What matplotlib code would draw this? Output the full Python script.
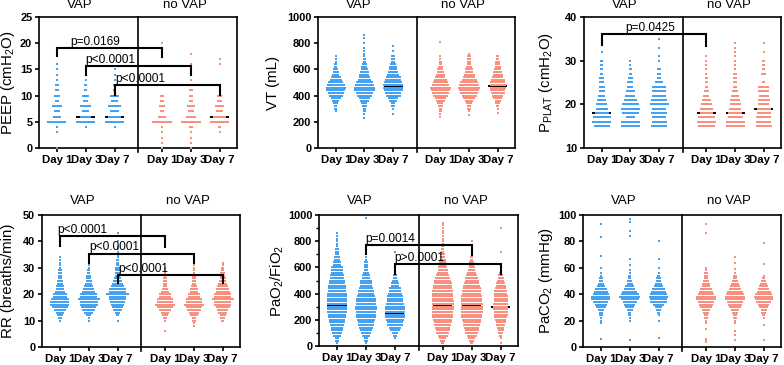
import numpy as np
import matplotlib.pyplot as plt

plt.rcParams['font.family'] = ['Liberation Sans', 'DejaVu Sans']
plt.rcParams['mathtext.fontset'] = 'custom'
plt.rcParams['mathtext.rm'] = 'Liberation Sans'
plt.rcParams['mathtext.it'] = 'Liberation Sans:italic'
plt.rcParams['mathtext.bf'] = 'Liberation Sans:bold'

day_labels = ['Day 1', 'Day 3', 'Day 7', 'Day 1', 'Day 3', 'Day 7']
cohorts = ['VAP', 'no VAP']

# value -> number of patients; order: VAP day 1/3/7, no VAP day 1/3/7
peep = [
    {0: 1, 3: 1, 4: 1, 5: 14, 6: 6, 7: 4, 8: 7, 9: 3, 10: 4, 11: 2, 12: 2, 13: 1, 14: 1, 15: 1, 16: 1},
    {4: 1, 5: 14, 6: 8, 7: 5, 8: 8, 9: 3, 10: 5, 11: 2, 12: 2, 13: 1, 14: 1},
    {4: 1, 5: 14, 6: 9, 7: 6, 8: 10, 9: 5, 10: 6, 11: 2, 12: 2, 13: 1, 14: 1, 15: 1},
    {0: 1, 1: 1, 2: 1, 3: 1, 4: 1, 5: 14, 6: 6, 7: 3, 8: 4, 9: 2, 10: 2, 20: 1},
    {0: 1, 1: 1, 2: 1, 3: 1, 4: 2, 5: 14, 6: 7, 7: 4, 8: 5, 9: 3, 10: 3, 11: 2, 12: 2, 13: 1, 14: 1,
     15: 1, 16: 1, 18: 1},
    {3: 1, 4: 2, 5: 14, 6: 9, 7: 5, 8: 6, 9: 3, 10: 3, 16: 1, 17: 1},
]
peep_median = [5, 6, 6, 5, 5, 6]

vt = [
    {280: 1, 300: 2, 320: 2, 340: 3, 360: 5, 380: 7, 400: 10, 420: 12, 440: 14, 460: 15, 480: 13,
     500: 11, 520: 9, 540: 7, 560: 5, 580: 4, 600: 3, 620: 2, 640: 2, 660: 1, 680: 1, 700: 1},
    {230: 1, 260: 1, 280: 2, 300: 2, 320: 3, 340: 4, 360: 6, 380: 8, 400: 11, 420: 13, 440: 15,
     460: 16, 480: 14, 500: 12, 520: 9, 540: 8, 560: 7, 580: 6, 600: 5, 620: 4, 640: 3, 660: 2,
     680: 2, 700: 1, 720: 1, 740: 1, 760: 1, 800: 1, 840: 1, 860: 1},
    {260: 1, 300: 1, 320: 2, 340: 3, 360: 5, 380: 7, 400: 11, 420: 12, 440: 14, 460: 15, 480: 15,
     500: 13, 520: 12, 540: 11, 560: 9, 580: 7, 600: 6, 620: 5, 640: 4, 660: 3, 680: 3, 700: 2,
     740: 1, 780: 1},
    {240: 1, 260: 1, 280: 2, 300: 2, 320: 3, 340: 4, 360: 6, 380: 8, 400: 11, 420: 13, 440: 14,
     460: 15, 480: 13, 500: 11, 520: 9, 540: 7, 560: 6, 580: 5, 600: 4, 620: 3, 640: 2, 660: 2,
     680: 1, 700: 1, 810: 1},
    {250: 1, 280: 1, 300: 2, 320: 3, 340: 4, 360: 6, 380: 9, 400: 11, 420: 13, 440: 15, 460: 16,
     480: 15, 500: 13, 520: 11, 540: 9, 560: 8, 580: 6, 600: 5, 620: 4, 640: 3, 660: 3, 680: 2,
     700: 2, 720: 1},
    {270: 1, 300: 1, 320: 2, 340: 3, 360: 4, 380: 6, 400: 8, 420: 10, 440: 11, 460: 12, 480: 12,
     500: 11, 520: 10, 540: 8, 560: 7, 580: 6, 600: 5, 620: 4, 640: 3, 660: 3, 680: 2, 700: 2},
]
vt_median = [460, 460, 470, 460, 460, 470]

pplat = [
    {15: 12, 16: 14, 17: 13, 18: 10, 19: 9, 20: 8, 21: 6, 22: 5, 23: 4, 24: 4, 25: 3, 26: 3,
     27: 2, 28: 2, 29: 2, 30: 2, 32: 1, 35: 1},
    {15: 14, 16: 14, 17: 6, 18: 12, 19: 14, 20: 12, 21: 9, 22: 7, 23: 6, 24: 4, 25: 4, 26: 3,
     27: 2, 28: 2, 29: 1, 30: 1},
    {15: 12, 16: 11, 17: 10, 18: 12, 19: 10, 20: 14, 21: 12, 22: 10, 23: 10, 24: 10, 25: 6,
     26: 3, 27: 3, 28: 3, 30: 1, 31: 1, 33: 1, 35: 1},
    {15: 12, 16: 14, 17: 12, 18: 10, 19: 9, 20: 8, 21: 6, 22: 4, 23: 3, 24: 2, 25: 2, 26: 2,
     27: 1, 28: 1, 29: 1, 30: 1, 31: 1},
    {15: 14, 16: 14, 17: 11, 18: 10, 19: 9, 20: 8, 21: 7, 22: 5, 23: 4, 24: 3, 25: 2, 26: 2,
     27: 2, 28: 1, 29: 1, 30: 1, 31: 1, 32: 1, 33: 1, 34: 1},
    {15: 12, 16: 11, 17: 11, 18: 10, 19: 10, 20: 8, 21: 9, 22: 7, 23: 8, 24: 8, 25: 2, 27: 3,
     28: 2, 29: 2, 30: 2, 32: 1, 34: 1},
]
pplat_median = [18, 19, 20, 18, 18, 19]

rr = [
    {10: 1, 11: 2, 12: 4, 13: 6, 14: 9, 15: 12, 16: 14, 17: 14, 18: 13, 19: 10, 20: 10, 21: 7,
     22: 6, 23: 5, 24: 4, 25: 4, 26: 3, 27: 2, 28: 2, 29: 2, 30: 1, 31: 1, 32: 1, 33: 1, 34: 1},
    {10: 1, 11: 1, 12: 3, 13: 6, 14: 9, 15: 11, 16: 13, 17: 13, 18: 16, 19: 12, 20: 12, 21: 9,
     22: 8, 23: 6, 24: 5, 25: 4, 26: 3, 27: 3, 28: 2, 29: 2, 30: 1, 31: 1},
    {10: 1, 12: 2, 13: 4, 14: 6, 15: 8, 16: 10, 17: 11, 18: 13, 19: 12, 20: 17, 21: 12, 22: 12,
     23: 10, 24: 8, 25: 7, 26: 5, 27: 4, 28: 4, 29: 3, 30: 3, 31: 2, 32: 2, 33: 2, 34: 1, 35: 1,
     36: 1, 37: 1, 38: 1, 40: 1, 43: 1},
    {6: 1, 10: 1, 11: 2, 12: 4, 13: 6, 14: 9, 15: 11, 16: 14, 17: 11, 18: 12, 19: 8, 20: 8,
     21: 5, 22: 4, 23: 3, 24: 3, 25: 2, 26: 2, 27: 1, 28: 1, 29: 1, 30: 1},
    {8: 1, 9: 1, 10: 2, 11: 3, 12: 5, 13: 7, 14: 10, 15: 12, 16: 14, 17: 12, 18: 12, 19: 9,
     20: 9, 21: 6, 22: 5, 23: 4, 24: 3, 25: 3, 26: 2, 27: 2, 28: 1, 29: 1, 30: 1, 31: 1},
    {10: 2, 11: 3, 12: 4, 13: 6, 14: 8, 15: 10, 16: 12, 17: 12, 18: 16, 19: 12, 20: 12, 21: 10,
     22: 9, 23: 8, 24: 6, 25: 5, 26: 4, 27: 3, 28: 3, 29: 2, 30: 2, 31: 1, 32: 1},
]
rr_median = [17, 18, 20, 16, 16, 18]

pf = [
    {20: 1, 40: 2, 60: 3, 80: 5, 100: 7, 120: 8, 140: 9, 160: 10, 180: 11, 200: 12, 220: 13,
     240: 13, 260: 14, 280: 14, 300: 15, 320: 15, 340: 14, 360: 14, 380: 14, 400: 14, 420: 13,
     440: 13, 460: 13, 480: 12, 500: 11, 520: 10, 540: 10, 560: 9, 580: 8, 600: 8, 620: 6,
     640: 5, 660: 4, 680: 4, 700: 3, 720: 2, 740: 2, 760: 1, 780: 1, 800: 1, 820: 1, 840: 1,
     860: 1},
    {20: 1, 40: 2, 60: 3, 80: 5, 100: 7, 120: 9, 140: 10, 160: 11, 180: 12, 200: 13, 220: 14,
     240: 15, 260: 15, 280: 16, 300: 16, 320: 15, 340: 15, 360: 14, 380: 13, 400: 12, 420: 11,
     440: 10, 460: 9, 480: 8, 500: 9, 520: 6, 540: 5, 560: 4, 580: 3, 600: 3, 620: 2, 640: 2,
     660: 1, 680: 1, 700: 1, 760: 1, 980: 1},
    {60: 1, 80: 2, 100: 4, 120: 7, 140: 9, 160: 11, 180: 12, 200: 13, 220: 14, 240: 15, 260: 15,
     280: 14, 300: 14, 320: 13, 340: 12, 360: 12, 380: 11, 400: 10, 420: 9, 440: 8, 460: 6,
     480: 5, 500: 4, 520: 3, 540: 2, 560: 1, 720: 1},
    {20: 2, 40: 3, 60: 5, 80: 7, 100: 9, 120: 10, 140: 11, 160: 12, 180: 13, 200: 14, 220: 15,
     240: 15, 260: 15, 280: 16, 300: 16, 320: 16, 340: 16, 360: 15, 380: 15, 400: 15, 420: 15,
     440: 14, 460: 14, 480: 13, 500: 12, 520: 11, 540: 9, 560: 8, 580: 7, 600: 6, 620: 5,
     640: 5, 660: 4, 680: 3, 700: 3, 720: 2, 740: 2, 760: 2, 780: 1, 800: 1, 820: 1, 840: 1,
     860: 1, 880: 1, 900: 1, 920: 1, 940: 1},
    {20: 2, 40: 3, 60: 5, 80: 7, 100: 9, 120: 10, 140: 11, 160: 12, 180: 13, 200: 14, 220: 15,
     240: 15, 260: 16, 280: 16, 300: 16, 320: 16, 340: 15, 360: 15, 380: 15, 400: 14, 420: 14,
     440: 13, 460: 12, 480: 11, 500: 10, 520: 9, 540: 8, 560: 6, 580: 5, 600: 4, 620: 3,
     640: 3, 660: 2, 680: 2, 700: 1, 720: 1, 760: 1, 800: 1},
    {20: 1, 60: 1, 80: 2, 100: 3, 120: 4, 140: 5, 160: 6, 180: 7, 200: 8, 220: 9, 240: 10,
     260: 10, 280: 11, 300: 11, 320: 11, 340: 10, 360: 10, 380: 10, 400: 9, 420: 9, 440: 8,
     460: 7, 480: 6, 500: 5, 520: 4, 540: 3, 560: 2, 580: 1, 600: 1, 720: 1, 900: 1},
]
pf_median = [310, 290, 255, 305, 305, 300]

paco2 = [
    {6: 1, 18: 1, 20: 1, 22: 1, 24: 2, 26: 3, 28: 4, 30: 7, 32: 9, 34: 11, 36: 14, 38: 14,
     40: 12, 42: 10, 44: 8, 46: 6, 48: 4, 50: 3, 52: 2, 54: 1, 56: 1, 60: 1, 69: 1, 83: 1, 93: 1},
    {5: 1, 20: 1, 22: 1, 24: 2, 26: 2, 28: 4, 30: 6, 32: 8, 34: 10, 36: 13, 38: 15, 40: 13,
     42: 11, 44: 8, 46: 6, 48: 4, 50: 3, 52: 2, 54: 2, 56: 1, 58: 1, 62: 1, 67: 1, 84: 1, 88: 1,
     95: 1, 97: 1},
    {7: 1, 20: 1, 24: 1, 26: 2, 28: 3, 30: 5, 32: 8, 34: 12, 36: 13, 38: 14, 40: 13, 42: 11,
     44: 9, 46: 7, 48: 5, 50: 4, 52: 3, 54: 2, 56: 1, 60: 1, 67: 1, 80: 1},
    {4: 1, 5: 1, 6: 1, 14: 1, 18: 1, 20: 1, 22: 2, 24: 3, 26: 4, 28: 5, 30: 8, 32: 10, 34: 12,
     36: 14, 38: 14, 40: 12, 42: 10, 44: 8, 46: 6, 48: 5, 50: 4, 52: 3, 54: 2, 56: 2, 58: 1,
     60: 1, 86: 1, 93: 1},
    {5: 1, 9: 1, 12: 1, 18: 1, 20: 1, 22: 2, 24: 3, 26: 4, 28: 6, 30: 8, 32: 10, 34: 12, 36: 14,
     38: 15, 40: 13, 42: 11, 44: 9, 46: 7, 48: 5, 50: 4, 52: 3, 54: 2, 56: 1, 59: 1, 64: 1, 68: 1},
    {5: 1, 17: 1, 22: 1, 24: 2, 26: 3, 28: 4, 30: 6, 32: 8, 34: 11, 36: 13, 38: 14, 40: 12,
     42: 10, 44: 8, 46: 6, 48: 5, 50: 3, 52: 2, 54: 1, 63: 1, 79: 1},
]
paco2_median = [37, 38, 38, 37, 38, 38]

# comparisons: (group from, group to, bracket top, left end, right end, label, label x)
peep_p = [(0, 3, 19.1, 17.5, 17.4, 'p=0.0169', 1.33),
          (1, 4, 15.7, 14.0, 14.0, 'p<0.0001', 1.87),
          (2, 5, 12.1, 10.2, 10.2, 'p<0.0001', 2.91)]
pplat_p = [(0, 3, 36.0, 33.7, 33.4, 'p=0.0425', 1.70)]
rr_p = [(0, 3, 42.0, 38.4, 38.0, 'p<0.0001', 0.77),
        (1, 4, 35.4, 31.9, 31.9, 'p<0.0001', 1.90),
        (2, 5, 27.2, 24.1, 24.1, 'p<0.0001', 2.88)]
pf_p = [(1, 4, 771, 700, 695, 'p=0.0014', 1.85),
        (2, 5, 623, 547, 547, 'p>0.0001', 2.83)]

xpos = [0, 1, 2, 3.65, 4.65, 5.65]
divider = 2.825
blue = '#45A2F0'
salmon = '#F7907F'

W, H = 784, 365
fig = plt.figure(figsize=(W / 100, H / 100), dpi=100)


def add_panel(box, data, medians, ylim, ystep, ylabel, label_x, comps=(), minor=None, ms=1.6):
    x0, y0, x1, y1 = box
    ax = fig.add_axes([x0 / W, 1 - y1 / H, (x1 - x0) / W, (y1 - y0) / H])
    d = 0.046
    for k, dist in enumerate(data):
        xc = xpos[k]
        ax.plot([xc - 0.33, xc + 0.33], [medians[k]] * 2, color='black', lw=1.4, zorder=2,
                solid_capstyle='butt')
        xs, ys = [], []
        for v, n in dist.items():
            for i in range(n):
                xs.append(xc + (i - (n - 1) / 2) * d)
                ys.append(v)
        ax.scatter(xs, ys, s=(ms * 0.72) ** 2, marker='s', color=blue if k < 3 else salmon,
                   linewidths=0, zorder=3, clip_on=False)
    for a, b, top, ya, yb, txt, tx in comps:
        ax.plot([xpos[a], xpos[a], xpos[b], xpos[b]], [ya, top, top, yb], color='black',
                lw=1.5, zorder=4, solid_joinstyle='miter')
        ax.annotate(txt, (tx, top), xytext=(0, 2.2), textcoords='offset points',
                    ha='center', va='baseline', fontsize=8.6, zorder=5)
    ax.axvline(divider, ymin=-0.032, ymax=1, color='black', lw=1.2, clip_on=False, zorder=6)
    ax.set_xlim(-0.62, 6.25)
    ax.set_ylim(*ylim)
    ax.set_yticks(np.arange(ylim[0], ylim[1] + ystep / 2, ystep))
    if minor:
        ax.set_yticks(np.arange(ylim[0], ylim[1] + 1, minor), minor=True)
    ax.set_xticks(xpos)
    ax.set_xticklabels(day_labels)
    ax.tick_params(axis='both', direction='out', length=3, width=1.2, pad=1.8)
    ax.tick_params(axis='y', labelsize=7.9)
    ax.tick_params(axis='y', which='minor', direction='out', length=2, width=1.0)
    ax.tick_params(axis='x', pad=2.3, labelsize=8.2)
    for lab in ax.get_xticklabels() + ax.get_yticklabels():
        lab.set_fontweight('bold')
    for sp in ax.spines.values():
        sp.set_linewidth(1.2)
    ty = 1 + 9 / (y1 - y0) if y0 < 100 else 1 + 11 / (y1 - y0)
    ax.text(0.8, ty, cohorts[0], transform=ax.get_xaxis_transform(), ha='center',
            va='baseline', fontsize=9.5)
    ax.text(4.45, ty, cohorts[1], transform=ax.get_xaxis_transform(), ha='center',
            va='baseline', fontsize=9.5)
    fig.text(label_x / W, 1 - (y0 + y1) / 2 / H, ylabel, rotation=90, ha='center',
             va='center', fontsize=10.8)
    return ax


add_panel((39, 17, 237, 148), peep, peep_median, (0, 25), 5,
          r'PEEP (cmH$_2$O)', 8, peep_p)
add_panel((318, 17, 515, 148), vt, vt_median, (0, 1000), 200,
          'VT (mL)', 273, ms=2.0)
add_panel((584, 17, 781, 148), pplat, pplat_median, (10, 40), 10,
          r'P$_{\mathrm{PLAT}}$ (cmH$_2$O)', 546, pplat_p)
add_panel((42, 215, 240, 347), rr, rr_median, (0, 50), 10,
          'RR (breaths/min)', 8, rr_p)
add_panel((319, 215, 518, 346), pf, pf_median, (0, 1000), 200,
          r'PaO$_2$/FiO$_2$', 277, pf_p, minor=100, ms=2.2)
add_panel((583, 215, 781, 347), paco2, paco2_median, (0, 100), 20,
          r'PaCO$_2$ (mmHg)', 546, ms=2.0)

fig.savefig('out.png', dpi=100)
